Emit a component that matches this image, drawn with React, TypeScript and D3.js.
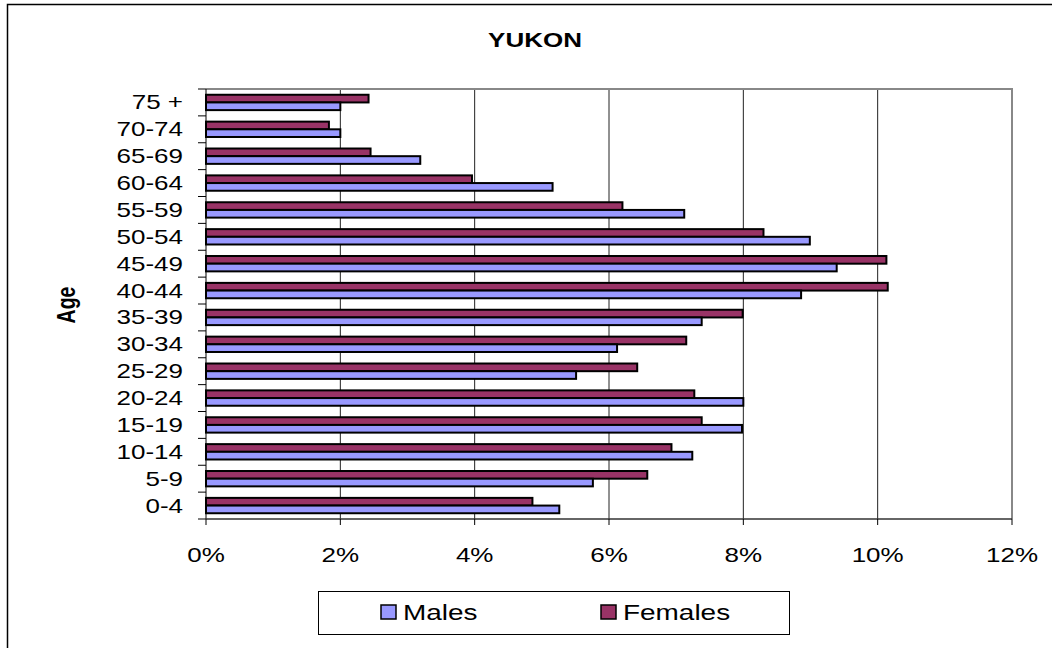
import React from "react";
import * as d3 from "d3";

// age groups, bottom to top as in the source sheet
const ageGroups = ["0-4", "5-9", "10-14", "15-19", "20-24", "25-29", "30-34", "35-39", "40-44", "45-49", "50-54", "55-59", "60-64", "65-69", "70-74", "75 +"];
const males = [5.26, 5.76, 7.24, 7.98, 8.0, 5.51, 6.12, 7.38, 8.86, 9.39, 8.99, 7.12, 5.16, 3.19, 2.0, 2.0];
const females = [4.86, 6.57, 6.93, 7.38, 7.27, 6.42, 7.15, 7.99, 10.15, 10.13, 8.3, 6.2, 3.96, 2.45, 1.83, 2.42];
const xTicks = [0, 2, 4, 6, 8, 10, 12];
const seriesNames = ["Females", "Males"];

const W = 1052;
const H = 648;
const SX = 1.3; // the source picture is stretched sideways
const FONT = "'Liberation Sans', Arial, sans-serif";
const MALE = "#9999ff";
const FEMALE = "#993366";

const plot = { left: 206, right: 1012, top: 89, bottom: 519 };

const T = ({ x, y, anchor = "middle", size = 20, bold = false, rotate = 0, children }: any) => (
  <text
    transform={`translate(${x},${y}) scale(${SX},1)${rotate ? ` rotate(${rotate})` : ""}`}
    textAnchor={anchor}
    fontSize={size}
    fontWeight={bold ? "bold" : "normal"}
    fontFamily={FONT}
    fill="#000"
  >
    {children}
  </text>
);

export default function App() {
  const x = d3.scaleLinear().domain([0, 12]).range([plot.left, plot.right]);
  const y = d3.scaleBand<string>().domain(ageGroups.slice().reverse()).range([plot.top, plot.bottom]).padding(0);
  const inner = d3.scaleBand<string>().domain(seriesNames).range([0, y.bandwidth()]).paddingInner(0).paddingOuter(0.75);

  const rows = ageGroups.map((g, i) => ({ g, m: males[i], f: females[i] }));
  const boundaries = d3.range(ageGroups.length + 1).map((i) => plot.top + i * y.step());

  return (
    <svg width={W} height={H} style={{ position: "absolute", left: 0, top: 0, background: "#fff" }}>
      {/* chart frame */}
      <rect x={7.5} y={4.5} width={W + 20} height={H + 20} fill="#fff" stroke="#000" strokeWidth={1.5} />

      <T x={535} y={47} size={20} bold>YUKON</T>

      {/* gridlines */}
      {xTicks.slice(1, -1).map((t) => (
        <line key={t} x1={x(t)} x2={x(t)} y1={plot.top} y2={plot.bottom} stroke="#222" strokeWidth={1} />
      ))}
      {/* plot border (top / right) */}
      <path d={`M${plot.left},${plot.top}H${plot.right}V${plot.bottom}`} fill="none" stroke="#888" strokeWidth={2} />

      {/* bars */}
      {rows.map((r) => (
        <g key={r.g} transform={`translate(0,${y(r.g)})`}>
          <rect x={x(0)} y={inner("Females")} width={x(r.f) - x(0)} height={inner.bandwidth()} fill={FEMALE} stroke="#000" strokeWidth={2} />
          <rect x={x(0)} y={inner("Males")} width={x(r.m) - x(0)} height={inner.bandwidth()} fill={MALE} stroke="#000" strokeWidth={2} />
        </g>
      ))}

      {/* axes */}
      <line x1={plot.left} x2={plot.left} y1={plot.top} y2={plot.bottom} stroke="#000" />
      <line x1={plot.left} x2={plot.right} y1={plot.bottom} y2={plot.bottom} stroke="#333" strokeWidth={1.5} />
      {boundaries.map((b, i) => (
        <line key={i} x1={plot.left - 8} x2={plot.left} y1={b} y2={b} stroke="#000" />
      ))}
      {xTicks.map((t) => (
        <line key={t} x1={x(t)} x2={x(t)} y1={plot.bottom} y2={plot.bottom + 6} stroke="#000" />
      ))}

      {/* labels */}
      {ageGroups.map((g) => (
        <T key={g} x={183} y={(y(g) as number) + y.bandwidth() / 2 + 7} anchor="end" size={20}>{g}</T>
      ))}
      {xTicks.map((t) => (
        <T key={t} x={x(t)} y={562} size={20}>{`${t}%`}</T>
      ))}
      <T x={75} y={305} size={19.5} bold rotate={-90}>Age</T>

      {/* legend */}
      <rect x={318.5} y={591.5} width={471} height={43} fill="#fff" stroke="#000" strokeWidth={1} />
      <rect x={381} y={605} width={15} height={14} fill={MALE} stroke="#000" strokeWidth={1.5} />
      <T x={403} y={620} anchor="start" size={21.5}>Males</T>
      <rect x={601} y={605} width={15} height={14} fill={FEMALE} stroke="#000" strokeWidth={1.5} />
      <T x={623} y={620} anchor="start" size={21.5}>Females</T>
    </svg>
  );
}
